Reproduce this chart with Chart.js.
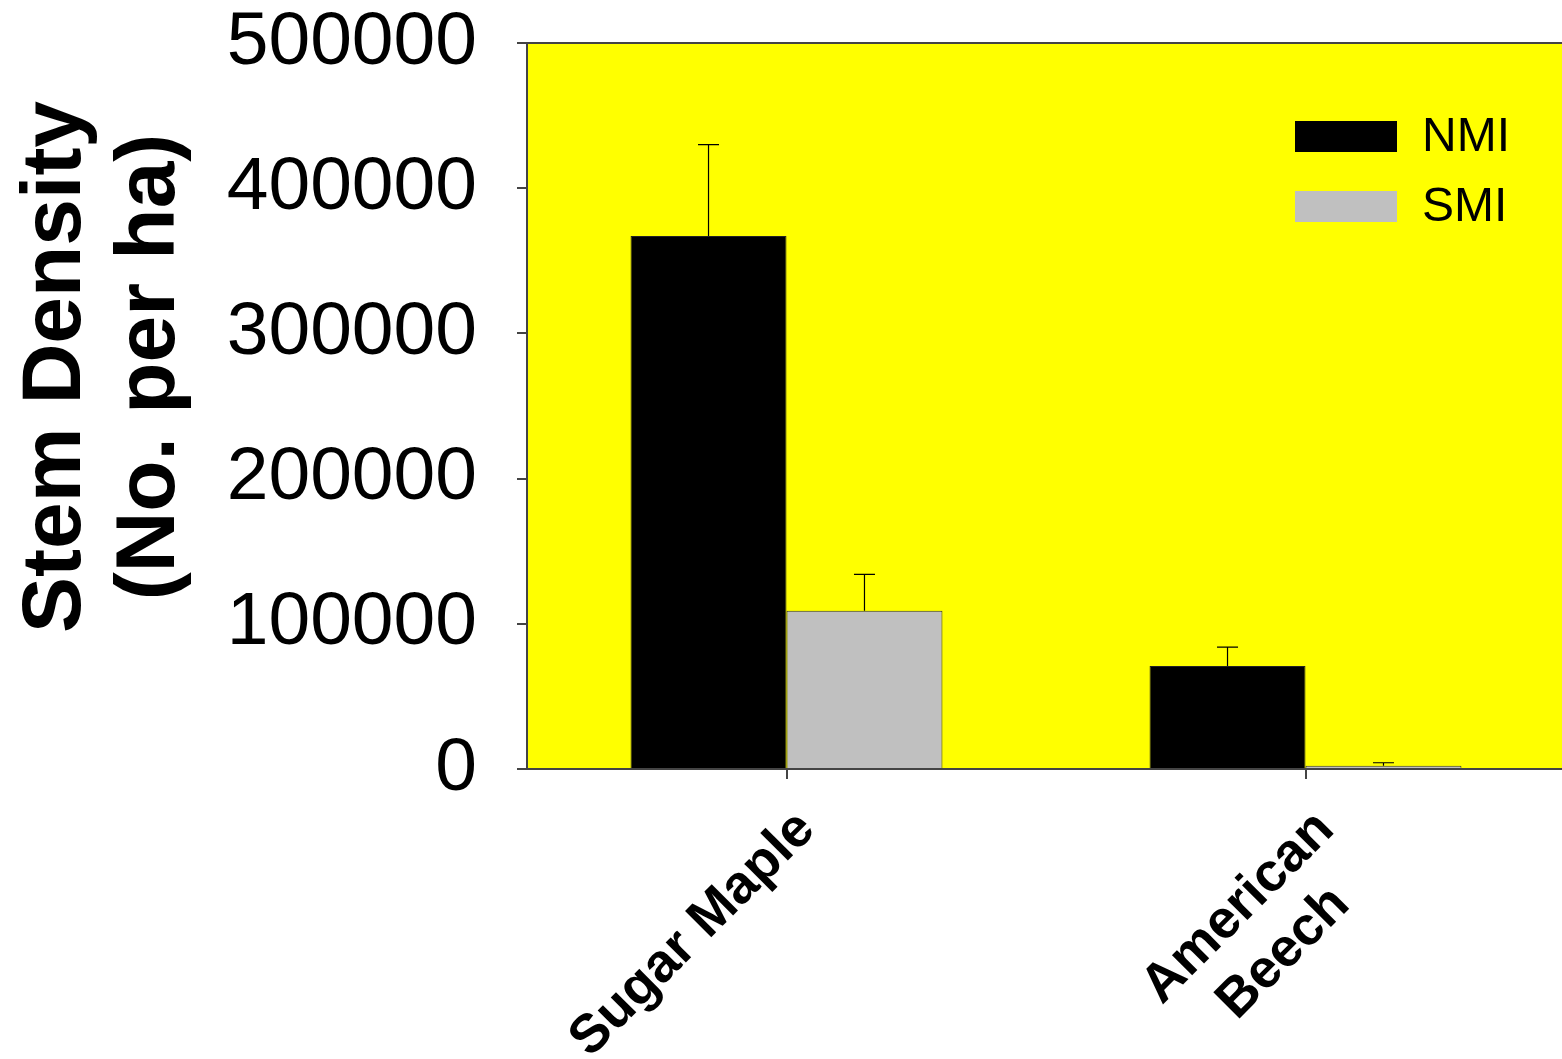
<!DOCTYPE html>
<html>
<head>
<meta charset="utf-8">
<title>Stem Density</title>
<script src="https://cdn.jsdelivr.net/npm/chart.js@4.4.1/dist/chart.umd.min.js"></script>
<style>
  html, body { margin: 0; padding: 0; background: #ffffff; overflow: hidden; }
  canvas { display: block; }
</style>
</head>
<body>
<canvas id="chart" width="1565" height="1059"></canvas>
<script>
// Species (multi-line labels are given as arrays of lines)
const categories = [['Sugar Maple'], ['American', 'Beech']];
const seriesNames = ['NMI', 'SMI'];
const seriesColors = ['#000000', '#c0c0c0'];

// Mean stem density (stems per ha) and standard errors
const nmiValues = [367000, 71000];
const smiValues = [109000, 2300];
const nmiErrors = [63000, 13000];
const smiErrors = [25000, 2000];

const yTicks = [0, 100000, 200000, 300000, 400000, 500000];
const yTitle = ['Stem Density', '(No. per ha)'];

const FONT = '"Liberation Sans", Arial, Helvetica, sans-serif';
const AXIS_COLOR = '#444444';

const errorSets = [nmiErrors, smiErrors];

// Yellow plotting area plus the frame line along its top edge
const plotBackground = {
  id: 'plotBackground',
  beforeDraw(chart) {
    const { ctx, chartArea: a } = chart;
    ctx.save();
    ctx.fillStyle = '#ffff00';
    ctx.fillRect(a.left, a.top, a.right - a.left, a.bottom - a.top);
    ctx.restore();
  },
  afterDraw(chart) {
    const { ctx, chartArea: a } = chart;
    ctx.save();
    ctx.strokeStyle = AXIS_COLOR;
    ctx.lineWidth = 2;
    ctx.beginPath();
    ctx.moveTo(a.left - 10, a.top);
    ctx.lineTo(a.right, a.top);
    ctx.stroke();
    ctx.restore();
  }
};

// Upper error whiskers with a short cap
const errorBars = {
  id: 'errorBars',
  afterDatasetsDraw(chart) {
    const { ctx } = chart;
    const y = chart.scales.y;
    ctx.save();
    ctx.strokeStyle = '#000000';
    ctx.lineWidth = 1.2;
    chart.data.datasets.forEach((ds, di) => {
      const meta = chart.getDatasetMeta(di);
      meta.data.forEach((bar, i) => {
        const top = y.getPixelForValue(ds.data[i] + errorSets[di][i]);
        ctx.beginPath();
        ctx.moveTo(bar.x, bar.y);
        ctx.lineTo(bar.x, top);
        ctx.moveTo(bar.x - 10.5, top);
        ctx.lineTo(bar.x + 10.5, top);
        ctx.stroke();
      });
    });
    ctx.restore();
  }
};

// Legend boxes inside the plot, top right
const boxLegend = {
  id: 'boxLegend',
  afterDraw(chart) {
    const { ctx } = chart;
    ctx.save();
    ctx.font = '48px ' + FONT;
    ctx.textBaseline = 'middle';
    ctx.textAlign = 'left';
    chart.data.datasets.forEach((ds, i) => {
      const top = 121 + i * 70;
      ctx.fillStyle = ds.backgroundColor;
      ctx.fillRect(1295, top, 102, 31);
      ctx.fillStyle = '#000000';
      ctx.fillText(ds.label, 1422, top + 17);
    });
    ctx.restore();
  }
};

// Rotated axis title and slanted category labels
const axisText = {
  id: 'axisText',
  afterDraw(chart) {
    const { ctx } = chart;
    ctx.save();
    ctx.fillStyle = '#000000';
    ctx.font = 'bold 84px ' + FONT;
    ctx.textAlign = 'center';
    ctx.textBaseline = 'alphabetic';
    yTitle.forEach((line, i) => {
      ctx.save();
      ctx.translate(80 + i * 94, 367);
      ctx.rotate(-Math.PI / 2);
      ctx.fillText(line, 0, 0);
      ctx.restore();
    });

    const x = chart.scales.x;
    ctx.font = 'bold 54px ' + FONT;
    ctx.textBaseline = 'middle';
    const lh = 64;
    categories.forEach((lines, i) => {
      const px = x.getPixelForTick(i);
      const widest = Math.max(...lines.map(l => ctx.measureText(l).width));
      ctx.save();
      ctx.translate(px + 20, x.top + 52);
      ctx.rotate(-Math.PI / 4);
      ctx.textAlign = 'center';
      lines.forEach((line, k) => {
        ctx.fillText(line, -widest / 2, k * lh);
      });
      ctx.restore();
    });
    ctx.restore();
  }
};

new Chart(document.getElementById('chart'), {
  type: 'bar',
  data: {
    labels: categories,
    datasets: [
      {
        label: seriesNames[0],
        data: nmiValues,
        backgroundColor: seriesColors[0],
        borderColor: '#222222',
        borderWidth: 1,
        barPercentage: 1.0,
        categoryPercentage: 0.601
      },
      {
        label: seriesNames[1],
        data: smiValues,
        backgroundColor: seriesColors[1],
        borderColor: '#333333',
        borderWidth: 1,
        barPercentage: 1.0,
        categoryPercentage: 0.601
      }
    ]
  },
  options: {
    responsive: false,
    animation: false,
    devicePixelRatio: 1,
    layout: { padding: { top: 43, right: 0, left: 0, bottom: 0 } },
    plugins: {
      legend: { display: false },
      tooltip: { enabled: false },
      title: { display: false }
    },
    scales: {
      x: {
        type: 'category',
        grid: {
          display: true,
          offset: false,
          drawOnChartArea: false,
          drawTicks: true,
          tickLength: 10,
          color: AXIS_COLOR,
          lineWidth: 2
        },
        border: { display: true, color: AXIS_COLOR, width: 2 },
        ticks: { display: false },
        afterFit(scale) {
          scale.height = 290;
          scale.paddingLeft = 0;
          scale.paddingRight = 0;
        }
      },
      y: {
        min: 0,
        max: 500000,
        afterBuildTicks(scale) {
          scale.ticks = yTicks.map(v => ({ value: v }));
        },
        grid: {
          display: true,
          drawOnChartArea: false,
          drawTicks: true,
          tickLength: 10,
          color: AXIS_COLOR,
          lineWidth: 2
        },
        border: { display: true, color: AXIS_COLOR, width: 2 },
        ticks: {
          color: '#000000',
          padding: 40,
          font: { family: FONT, size: 75 },
          callback: v => String(v)
        },
        afterFit(scale) {
          scale.width = 527;
          scale.paddingTop = 0;
          scale.paddingBottom = 0;
        }
      }
    }
  },
  plugins: [plotBackground, errorBars, boxLegend, axisText]
});
</script>
</body>
</html>
